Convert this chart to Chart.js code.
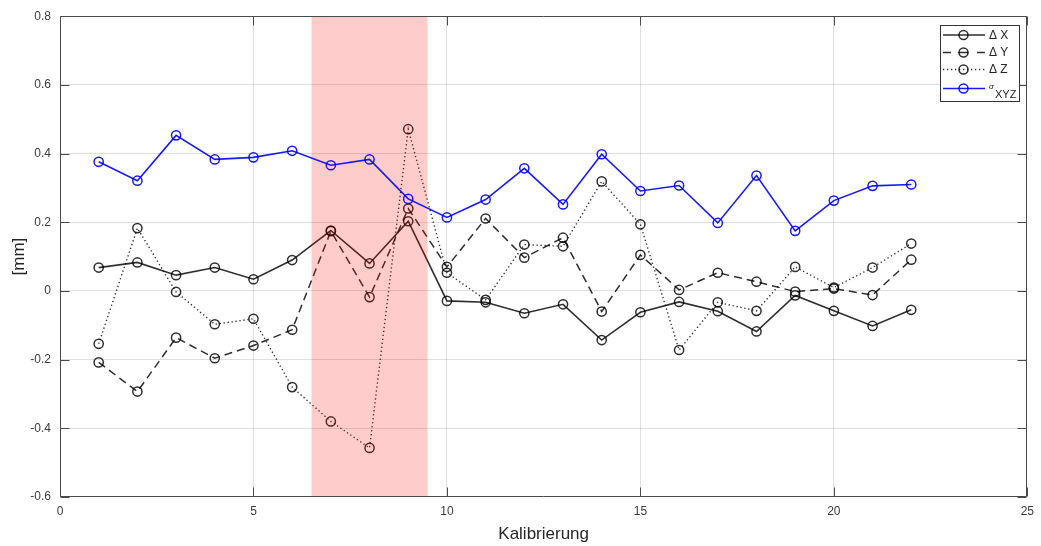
<!DOCTYPE html>
<html>
<head>
<meta charset="utf-8">
<script src="https://cdn.jsdelivr.net/npm/chart.js@4/dist/chart.umd.min.js"></script>
<style>
html,body{margin:0;padding:0;background:#fff;}
#wrap{position:relative;width:1041px;height:546px;}
</style>
</head>
<body>
<div id="wrap"><canvas id="c" width="1041" height="546"></canvas></div>
<script>
// ---- data ----
const calib = [1,2,3,4,5,6,7,8,9,10,11,12,13,14,15,16,17,18,19,20,21,22];
const deltaX = [0.068,0.083,0.046,0.068,0.034,0.090,0.176,0.080,0.203,-0.029,-0.033,-0.065,-0.039,-0.143,-0.062,-0.032,-0.059,-0.118,-0.013,-0.058,-0.102,-0.055];
const deltaY = [-0.208,-0.293,-0.136,-0.196,-0.159,-0.113,0.174,-0.018,0.240,0.070,0.211,0.097,0.155,-0.060,0.105,0.003,0.053,0.027,-0.002,0.007,-0.012,0.091];
const deltaZ = [-0.154,0.183,-0.003,-0.097,-0.081,-0.280,-0.380,-0.457,0.471,0.053,-0.026,0.135,0.130,0.319,0.194,-0.172,-0.033,-0.058,0.070,0.010,0.068,0.138];
const sigmaXYZ = [0.376,0.321,0.453,0.383,0.389,0.408,0.366,0.383,0.268,0.214,0.266,0.357,0.252,0.398,0.291,0.307,0.198,0.336,0.175,0.263,0.306,0.310];
const band = [6.5, 9.5];
const xTicks = [0,5,10,15,20,25];
const yTicks = [-0.6,-0.4,-0.2,0,0.2,0.4,0.6,0.8];
const seriesNames = ['Δ X','Δ Y','Δ Z'];
const xTitle = 'Kalibrierung';
const yTitle = '[mm]';

const FONT = '"Liberation Sans", Arial, Helvetica, sans-serif';
const BLACK = 'rgba(0,0,0,0.82)';
const BLUE = 'rgba(0,0,255,0.9)';
const DASH = [8,5];
const DOT = [1.3,2.7];

function pts(arr){ return calib.map((c,i)=>({x:c, y:arr[i]})); }

const common = {
  fill:false, tension:0, pointStyle:'circle', pointRadius:4.6, pointHoverRadius:4.6,
  pointBorderWidth:1.5, pointBackgroundColor:'rgba(0,0,0,0)', backgroundColor:'rgba(0,0,0,0)'
};

const datasets = [
  Object.assign({}, common, {label:'σXYZ', data:pts(sigmaXYZ), borderColor:BLUE, pointBorderColor:BLUE, borderWidth:1.6, order:0}),
  Object.assign({}, common, {label:seriesNames[0], data:pts(deltaX), borderColor:BLACK, pointBorderColor:BLACK, borderWidth:1.6, order:1}),
  Object.assign({}, common, {label:seriesNames[1], data:pts(deltaY), borderColor:BLACK, pointBorderColor:BLACK, borderWidth:1.5, borderDash:DASH, order:2}),
  Object.assign({}, common, {label:seriesNames[2], data:pts(deltaZ), borderColor:BLACK, pointBorderColor:BLACK, borderWidth:1.4, borderDash:DOT, order:3}),
];

const deco = {
  id:'deco',
  beforeDatasetDraw(chart, args){
    if (args.index !== 0) return;
    const {ctx, chartArea:a, scales:{x}} = chart;
    const x0 = x.getPixelForValue(band[0]), x1 = x.getPixelForValue(band[1]);
    ctx.save();
    ctx.fillStyle = 'rgba(255,0,0,0.2)';
    ctx.fillRect(x0, a.top, x1-x0, a.bottom-a.top);
    ctx.restore();
  },
  afterDatasetsDraw(chart){
    const {ctx, chartArea:a, scales:{x,y}} = chart;
    const L = Math.round(a.left)+0.5, R = Math.round(a.right)-0.5, T = Math.round(a.top)+0.5, B = Math.round(a.bottom)-0.5;
    const tl = 9;
    ctx.save();
    ctx.strokeStyle = '#4a4a4a';
    ctx.lineWidth = 1;
    ctx.beginPath();
    ctx.rect(L, T, R-L, B-T);
    xTicks.forEach(v=>{
      const px = Math.round(x.getPixelForValue(v))+0.5;
      ctx.moveTo(px,B); ctx.lineTo(px,B-tl);
      ctx.moveTo(px,T); ctx.lineTo(px,T+tl);
    });
    yTicks.forEach(v=>{
      const py = Math.round(y.getPixelForValue(v))+0.5;
      ctx.moveTo(L,py); ctx.lineTo(L+tl,py);
      ctx.moveTo(R,py); ctx.lineTo(R-tl,py);
    });
    ctx.stroke();
    ctx.restore();
  },
  afterDraw(chart){
    const ctx = chart.ctx;
    const bx = 940.5, by = 25.5, bw = 79, bh = 76;
    ctx.save();
    ctx.fillStyle = '#fff';
    ctx.fillRect(bx, by, bw, bh);
    ctx.strokeStyle = '#333';
    ctx.lineWidth = 1;
    ctx.strokeRect(bx, by, bw, bh);
    const rows = [35, 52.5, 69.5, 88.5];
    const lx0 = 943, lx1 = 985, mx = 963.5;
    const styles = [
      {c:BLACK, dash:[], w:1.6},
      {c:BLACK, dash:null, w:1.5},
      {c:BLACK, dash:DOT, w:1.4},
      {c:BLUE, dash:[], w:1.6}
    ];
    rows.forEach((ry,i)=>{
      const s = styles[i];
      ctx.strokeStyle = s.c; ctx.lineWidth = s.w;
      ctx.beginPath();
      if (s.dash === null){
        ctx.setLineDash([]);
        ctx.moveTo(lx0, ry); ctx.lineTo(lx0+8, ry);
        ctx.moveTo(mx-5, ry); ctx.lineTo(mx+5, ry);
        ctx.moveTo(lx1-8, ry); ctx.lineTo(lx1, ry);
      } else {
        ctx.setLineDash(s.dash);
        ctx.moveTo(lx0, ry); ctx.lineTo(lx1, ry);
      }
      ctx.stroke();
      ctx.setLineDash([]);
      ctx.beginPath();
      ctx.arc(mx, ry, 4.5, 0, Math.PI*2);
      ctx.lineWidth = 1.5;
      ctx.stroke();
    });
    ctx.fillStyle = '#262626';
    ctx.textBaseline = 'middle';
    ctx.textAlign = 'left';
    ctx.font = '12px ' + FONT;
    seriesNames.forEach((n,i)=>{ ctx.fillText(n, 989, rows[i]+0.5); });
    ctx.font = 'italic 8px ' + FONT;
    ctx.fillText('σ', 989, 86.5);
    ctx.font = '11px ' + FONT;
    ctx.fillText('XYZ', 995, 95);
    ctx.restore();
  }
};

new Chart(document.getElementById('c'), {
  type:'line',
  data:{datasets},
  options:{
    responsive:false, animation:false, devicePixelRatio:1,
    layout:{padding:{left:0, top:15, right:13, bottom:0}},
    plugins:{legend:{display:false}, tooltip:{enabled:false}},
    scales:{
      x:{
        type:'linear', min:0, max:25,
        afterBuildTicks(s){ s.ticks = xTicks.map(v=>({value:v})); },
        afterFit(s){ s.height = 49; },
        grid:{drawTicks:false, lineWidth:1,
          color:(c)=> (c.tick && (c.tick.value===0 || c.tick.value===25)) ? 'rgba(0,0,0,0)' : 'rgba(38,38,38,0.15)'},
        border:{display:false},
        ticks:{padding:7, color:'#3a3a3a', font:{family:FONT, size:12}, maxRotation:0,
          callback:(v)=>String(v)},
        title:{display:true, text:xTitle, color:'#262626', font:{family:FONT, size:17}, padding:{top:0,bottom:1}}
      },
      y:{
        type:'linear', min:-0.6, max:0.8,
        afterBuildTicks(s){ s.ticks = yTicks.map(v=>({value:v})); },
        afterFit(s){ s.width = 60; },
        grid:{drawTicks:false, lineWidth:1,
          color:(c)=> (c.tick && (Math.abs(c.tick.value+0.6)<1e-9 || Math.abs(c.tick.value-0.8)<1e-9)) ? 'rgba(0,0,0,0)' : 'rgba(38,38,38,0.15)'},
        border:{display:false},
        ticks:{padding:9, color:'#3a3a3a', font:{family:FONT, size:12},
          callback:(v)=>String(Number(v.toFixed(1)))},
        title:{display:true, text:yTitle, color:'#262626', font:{family:FONT, size:17}, padding:{top:9,bottom:0}}
      }
    }
  },
  plugins:[deco]
});
</script>
</body>
</html>
